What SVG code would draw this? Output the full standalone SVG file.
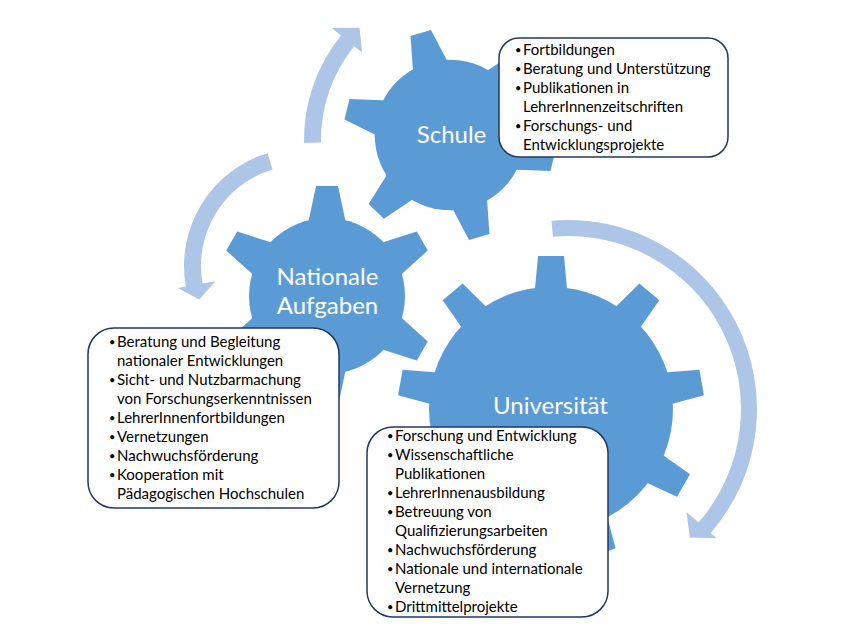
<svg xmlns="http://www.w3.org/2000/svg" xmlns:xlink="http://www.w3.org/1999/xlink" width="847" height="627" viewBox="0 0 847 627">
<style>
.gear{fill:#5B9BD5}
.arrow{fill:#ADC5E7}
.lbl{font-family:Lato,"Open Sans","Liberation Sans",sans-serif;fill:#FFFFFF;text-anchor:middle;font-size:24px}
.box{fill:#FFFFFF;stroke:#1F3864;stroke-width:1.5}
.txt{font-family:Lato,"Open Sans","Liberation Sans",sans-serif;fill:#000000;font-size:15px}
.bul{font-family:Lato,"Open Sans","Liberation Sans",sans-serif;fill:#000000;font-size:11px}
</style>
<defs>
<polygon id="tooth6" points="-11,-110 11,-110 19.5,-70 -19.5,-70"/>
<g id="gear6">
<circle cx="0" cy="0" r="78"/>
<use xlink:href="#tooth6"/>
<use xlink:href="#tooth6" transform="rotate(60)"/>
<use xlink:href="#tooth6" transform="rotate(120)"/>
<use xlink:href="#tooth6" transform="rotate(180)"/>
<use xlink:href="#tooth6" transform="rotate(240)"/>
<use xlink:href="#tooth6" transform="rotate(300)"/>
</g>
<polygon id="tooth9" points="-13,-153 13,-153 16.5,-115 -16.5,-115"/>
<g id="gear9">
<circle cx="0" cy="0" r="122"/>
<use xlink:href="#tooth9"/>
<use xlink:href="#tooth9" transform="rotate(40)"/>
<use xlink:href="#tooth9" transform="rotate(80)"/>
<use xlink:href="#tooth9" transform="rotate(120)"/>
<use xlink:href="#tooth9" transform="rotate(160)"/>
<use xlink:href="#tooth9" transform="rotate(200)"/>
<use xlink:href="#tooth9" transform="rotate(240)"/>
<use xlink:href="#tooth9" transform="rotate(280)"/>
<use xlink:href="#tooth9" transform="rotate(320)"/>
</g>
</defs>
<rect x="0" y="0" width="847" height="627" fill="#FFFFFF"/>
<g id="connectors">
<path class="arrow" d="M304.0,142.9 A166,166 0 0 1 341.0,35.5 L331.7,28.0 L359.6,27.7 L362.0,52.5 L354.2,46.2 A149,149 0 0 0 321.0,142.6 Z"/>
<path class="arrow" d="M267.5,153.2 A118,118 0 0 0 185.8,286.5 L177.9,287.9 L199.3,299.4 L215.3,281.3 L202.5,283.5 A101,101 0 0 1 272.5,169.4 Z"/>
<path class="arrow" d="M551.5,220.7 A189,189 0 0 1 710.6,533.0 L716.7,538.2 L689.8,537.4 L686.5,512.0 L698.6,522.5 A173,173 0 0 0 552.9,236.7 Z"/>
</g>
<g id="node-universitaet">
<use class="gear" xlink:href="#gear9" transform="translate(551,409)"/>
<text class="lbl" x="550.5" y="414">Universität</text>
<rect class="box" x="367" y="427" width="241" height="190" rx="26" ry="26"/>
<text class="bul">
<tspan x="387" y="439.5">•</tspan>
<tspan x="387" y="458.5">•</tspan>
<tspan x="387" y="496.5">•</tspan>
<tspan x="387" y="515.5">•</tspan>
<tspan x="387" y="553.5">•</tspan>
<tspan x="387" y="572.5">•</tspan>
<tspan x="387" y="610.5">•</tspan>
</text>
<text class="txt">
<tspan x="395" y="441">Forschung und Entwicklung</tspan>
<tspan x="395" y="460">Wissenschaftliche</tspan>
<tspan x="395" y="479">Publikationen</tspan>
<tspan x="395" y="498">LehrerInnenausbildung</tspan>
<tspan x="395" y="517">Betreuung von</tspan>
<tspan x="395" y="536">Qualifizierungsarbeiten</tspan>
<tspan x="395" y="555">Nachwuchsförderung</tspan>
<tspan x="395" y="574">Nationale und internationale</tspan>
<tspan x="395" y="593">Vernetzung</tspan>
<tspan x="395" y="612">Drittmittelprojekte</tspan>
</text>
</g>
<g id="node-nationale">
<use class="gear" xlink:href="#gear6" transform="translate(327,296)"/>
<text class="lbl"><tspan x="327.5" y="285">Nationale</tspan><tspan x="327.5" y="314">Aufgaben</tspan></text>
<rect class="box" x="88" y="328" width="251" height="180" rx="26" ry="26"/>
<text class="bul">
<tspan x="109" y="345.5">•</tspan>
<tspan x="109" y="383.5">•</tspan>
<tspan x="109" y="421.5">•</tspan>
<tspan x="109" y="440.5">•</tspan>
<tspan x="109" y="459.5">•</tspan>
<tspan x="109" y="478.5">•</tspan>
</text>
<text class="txt">
<tspan x="117" y="347">Beratung und Begleitung</tspan>
<tspan x="117" y="366">nationaler Entwicklungen</tspan>
<tspan x="117" y="385">Sicht- und Nutzbarmachung</tspan>
<tspan x="117" y="404">von Forschungserkenntnissen</tspan>
<tspan x="117" y="423">LehrerInnenfortbildungen</tspan>
<tspan x="117" y="442">Vernetzungen</tspan>
<tspan x="117" y="461">Nachwuchsförderung</tspan>
<tspan x="117" y="480">Kooperation mit</tspan>
<tspan x="117" y="499">Pädagogischen Hochschulen</tspan>
</text>
</g>
<g id="node-schule">
<use class="gear" xlink:href="#gear6" transform="translate(450,135) rotate(-16) scale(0.965)"/>
<text class="lbl" x="451.5" y="143">Schule</text>
<rect class="box" x="499" y="38" width="229" height="119" rx="20" ry="20"/>
<text class="bul">
<tspan x="515" y="53.5">•</tspan>
<tspan x="515" y="72.5">•</tspan>
<tspan x="515" y="91.5">•</tspan>
<tspan x="515" y="129.5">•</tspan>
</text>
<text class="txt">
<tspan x="523" y="55">Fortbildungen</tspan>
<tspan x="523" y="74">Beratung und Unterstützung</tspan>
<tspan x="523" y="93">Publikationen in</tspan>
<tspan x="523" y="112">LehrerInnenzeitschriften</tspan>
<tspan x="523" y="131">Forschungs- und</tspan>
<tspan x="523" y="150">Entwicklungsprojekte</tspan>
</text>
</g>
</svg>
